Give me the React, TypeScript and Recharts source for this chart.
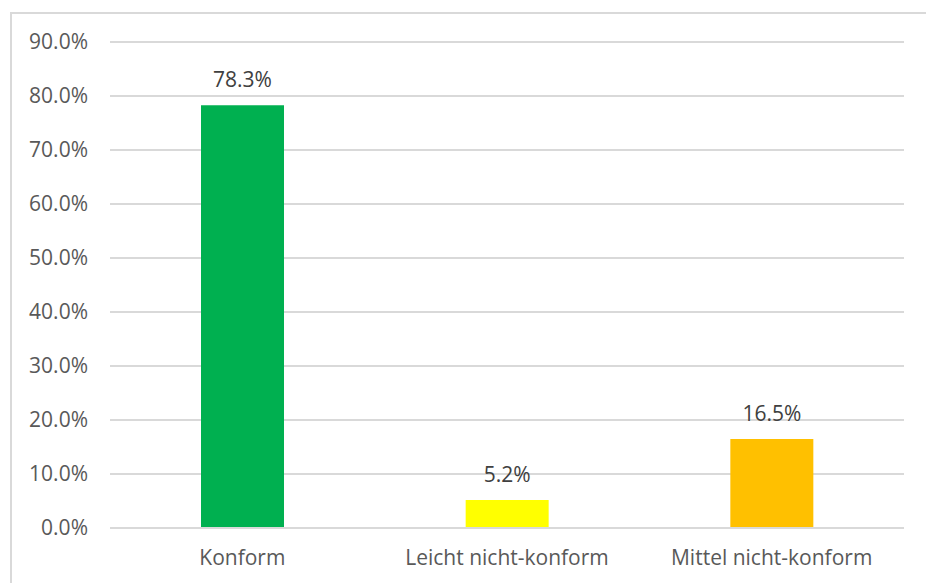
import React from "react";
import { BarChart, Bar, XAxis, YAxis, CartesianGrid, Cell, LabelList } from "recharts";

const categories = ["Konform", "Leicht nicht-konform", "Mittel nicht-konform"];
const values = [78.3, 5.2, 16.5];
const colors = ["#00B050", "#FFFF00", "#FFC000"];
const yTicks = [0, 10, 20, 30, 40, 50, 60, 70, 80, 90];

const data = categories.map((c, i) => ({ name: c, value: values[i] }));

const FONT = "'Open Sans', sans-serif";

export default function App() {
  return (
    <div style={{ position: "absolute", left: 0, top: 0, width: 926, height: 583, background: "#fff", overflow: "hidden" }}>
      <div
        style={{
          position: "absolute",
          left: 10,
          top: 12,
          width: 940,
          height: 600,
          borderLeft: "2px solid #d9d9d9",
          borderTop: "2px solid #d9d9d9",
        }}
      />
      <div style={{ position: "absolute", left: 0, top: 0 }}>
        <BarChart
          width={926}
          height={583}
          data={data}
          margin={{ top: 42, right: 22, bottom: 0, left: 0 }}
          barSize={83}
        >
          <CartesianGrid vertical={false} stroke="#d9d9d9" strokeWidth={2} />
          <XAxis
            dataKey="name"
            axisLine={{ stroke: "#d9d9d9", strokeWidth: 2 }}
            tickLine={false}
            height={55}
            tickSize={0}
            tickMargin={22}
            tick={{ fill: "#595959", fontSize: 21, fontFamily: FONT }}
            interval={0}
          />
          <YAxis
            domain={[0, 90]}
            ticks={yTicks}
            width={110}
            axisLine={false}
            tickLine={false}
            tickSize={0}
            tickMargin={22}
            tickFormatter={(v: number) => v.toFixed(1) + "%"}
            tick={{ fill: "#595959", fontSize: 21, fontFamily: FONT }}
          />
          <Bar dataKey="value" isAnimationActive={false}>
            {data.map((d, i) => (
              <Cell key={d.name} fill={colors[i]} />
            ))}
            <LabelList
              dataKey="value"
              position="top"
              offset={18}
              formatter={(v: number) => v.toFixed(1) + "%"}
              style={{ fill: "#404040", fontSize: 21, fontFamily: FONT }}
            />
          </Bar>
        </BarChart>
      </div>
    </div>
  );
}
